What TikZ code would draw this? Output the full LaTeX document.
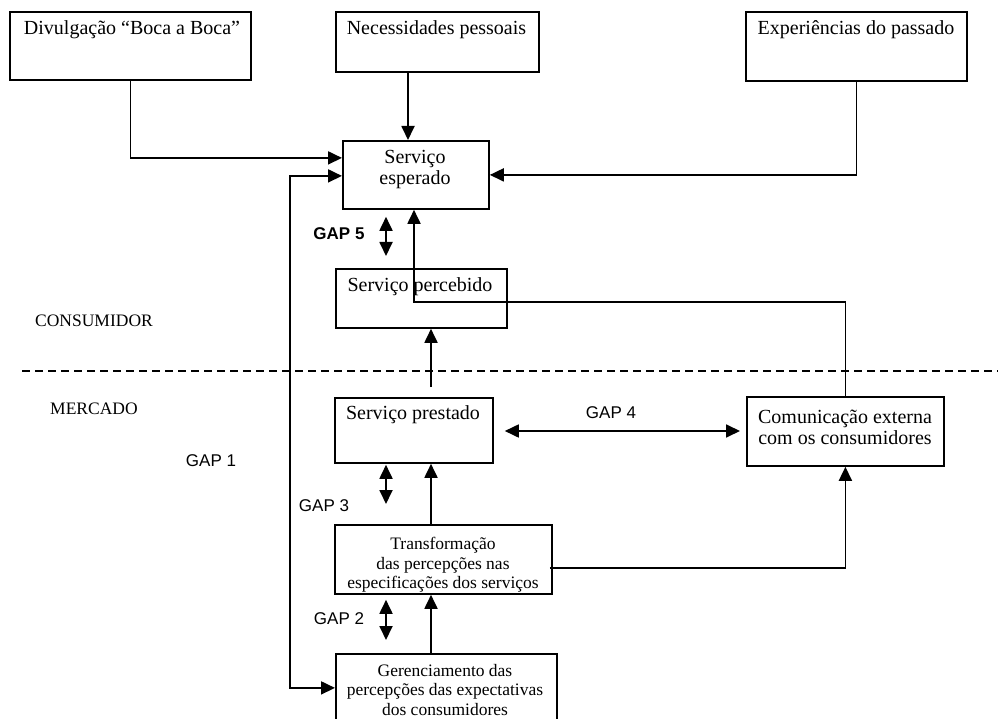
\documentclass[tikz,border=0pt]{standalone}
\usepackage{fontspec}
\setmainfont{Liberation Serif}
\newfontfamily\gapfont{Liberation Sans}
\usetikzlibrary{arrows.meta}

\tikzset{
  box/.style={draw, line width=1.8pt, anchor=north west, inner sep=0pt},
  txt/.style={font=\fontsize{20}{21}\selectfont, align=center, inner sep=0pt},
  smalltxt/.style={font=\fontsize{17.5}{19.5}\selectfont, align=center, inner sep=0pt},
  gaplbl/.style={font=\gapfont\fontsize{17}{20}\selectfont, inner sep=0pt},
  conn/.style={line width=1.8pt},
  arr/.style={conn, -{Triangle[length=14pt,width=13pt]}},
  dblarr/.style={conn, {Triangle[length=14pt,width=13pt]}-{Triangle[length=14pt,width=13pt]}},
}

\begin{document}
\begin{tikzpicture}[x=1pt,y=-1pt]
\useasboundingbox (0,0) rectangle (998,719);

% boxes
\node[box, minimum width=241pt, minimum height=68pt] (div) at (9,11) {};
\node[box, minimum width=203pt, minimum height=60pt] (nec) at (335,11) {};
\node[box, minimum width=221pt, minimum height=69pt] (exp) at (745,11) {};
\node[box, minimum width=146pt, minimum height=68pt] (esp) at (342,140) {};
\node[box, minimum width=171pt, minimum height=59pt] (perc) at (335,268) {};
\node[box, minimum width=158pt, minimum height=65pt] (prest) at (334,397) {};
\node[box, minimum width=197pt, minimum height=69pt] (com) at (746,396) {};
\node[box, minimum width=217pt, minimum height=69pt] (transf) at (334,524) {};
\node[box, minimum width=221pt, minimum height=70pt] (ger) at (335,653) {};

% box texts
\node[txt] (tdiv) at (132,30) {Divulgação “Boca a Boca”};
\node[txt] (tnec) at (436.5,30) {Necessidades pessoais};
\node[txt] (texp) at (856,30) {Experiências do passado};
\node[txt] (tesp) at (415,170) {Serviço\\esperado};
\node[txt] (tperc) at (420,287) {Serviço percebido};
\node[txt] (tprest) at (413,415) {Serviço prestado};
\node[txt] (tcom) at (845,427) {Comunicação externa\\com os consumidores};
\node[smalltxt] (ttransf) at (443,565) {Transformação\\das percepções nas\\especificações dos serviços};
\node[smalltxt] (tger) at (445,690) {Gerenciamento das\\percepções das expectativas\\dos consumidores};

% side labels
\node[smalltxt] (cons) at (94,321) {CONSUMIDOR};
\node[smalltxt] (merc) at (94,409) {MERCADO};
\node[gaplbl] (g1) at (211,461) {GAP 1};
\node[gaplbl, font=\gapfont\bfseries\fontsize{17}{20}\selectfont] (g5) at (339,234) {GAP 5};
\node[gaplbl] (g4) at (611,413) {GAP 4};
\node[gaplbl] (g3) at (324,506) {GAP 3};
\node[gaplbl] (g2) at (339,619) {GAP 2};

% consumer / market divide
\coordinate (dl) at (22,371);
\coordinate (dr) at (998,371);
\draw[line width=1.8pt, dash pattern=on 8pt off 5pt] (dl) -- (dr);

% helper columns
\coordinate (cnec) at (408,0);
\coordinate (cgap) at (386,0);
\coordinate (cup) at (431,0);
\coordinate (cfb) at (290,0);
\coordinate (elbow) at (414,302);

% inputs to the expected service
\draw[arr] (div.south) |- ([yshift=17pt]esp.west);
\draw[arr] (nec.south -| cnec) -- (esp.north -| cnec);
\draw[arr] (exp.south) |- (esp.east);

% GAP 1 feedback loop
\coordinate (fbtop) at ([yshift=-1pt]esp.west);
\coordinate (fbbot) at ([yshift=1pt]ger.west);
\draw[dblarr] (fbtop) -- (fbtop -| cfb) -- (fbbot -| cfb) -- (fbbot);

% GAP 5
\draw[dblarr] ([yshift=-7pt]esp.south -| cgap) -- ([yshift=12pt]perc.north -| cgap);

% external communication feeds the expected service
\draw[arr] (com.north) |- (elbow) -- (esp.south -| elbow);

% service delivered is perceived
\draw[arr] ([yshift=10pt]prest.north -| cup) -- (perc.south -| cup);

% GAP 4
\draw[dblarr] ([xshift=11pt]prest.east |- 0,431) -- ([xshift=-6pt]com.west |- 0,431);

% GAP 3
\draw[dblarr] ([yshift=-1pt]prest.south -| cgap) -- ([yshift=20pt]transf.north -| cgap);
\draw[arr] (transf.north -| cup) -- (prest.south -| cup);

% specifications feed external communication
\draw[arr] ([xshift=-3pt]transf.east |- 0,568) -| (com.south);

% GAP 2
\draw[dblarr] ([yshift=-5pt]transf.south -| cgap) -- ([yshift=13pt]ger.north -| cgap);
\draw[arr] (ger.north -| cup) -- (transf.south -| cup);
\end{tikzpicture}
\end{document}
